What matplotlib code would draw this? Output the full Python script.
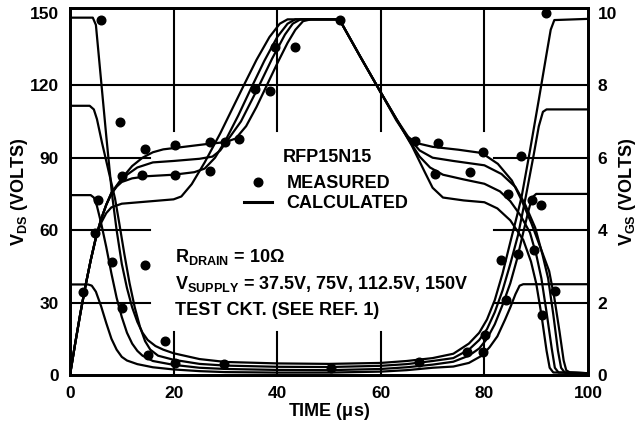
import matplotlib.pyplot as plt
from matplotlib.lines import Line2D

plt.rcParams['font.family'] = 'Liberation Sans'
plt.rcParams['font.weight'] = 'bold'
plt.rcParams['axes.labelweight'] = 'bold'
plt.rcParams['mathtext.fontset'] = 'custom'
plt.rcParams['mathtext.rm'] = 'Liberation Sans:bold'
plt.rcParams['mathtext.it'] = 'Liberation Sans:bold'
plt.rcParams['mathtext.bf'] = 'Liberation Sans:bold'

# ---- calculated V_DS curves (time in us, volts) ----
vds37_t = [0, 3.5, 4.2, 5, 6, 7, 8, 9, 10, 11, 13, 16, 20, 25, 30, 40, 50, 60, 65, 70, 74,
           77, 79.5, 81, 82.5, 84, 85, 86, 86.8, 87.5, 100]
vds37_v = [37.5, 37.5, 37, 34.5, 28.5, 21.5, 15, 10.5, 7.5, 6, 4.5, 3.2, 2.3, 1.6, 1.2, 1, 1, 1.4, 2, 3, 3.5,
           5, 8, 11.5, 16, 23, 28, 33.5, 37, 37.6, 37.6]
vds75_t = [0, 4, 4.6, 5.2, 6, 7, 8, 9, 10, 11, 12, 13, 14, 16, 20, 25, 30, 40, 50, 60, 65, 70, 74,
           77, 79, 80.5, 82, 83.5, 85, 86.3, 87.5, 88.5, 89.2, 90, 100]
vds75_v = [74.5, 74.5, 73.5, 70, 63, 53, 42, 32, 24, 17.5, 13, 10, 8, 5.8, 4.2, 3, 2.5, 2.1, 2, 2.5, 3.2, 4.3, 5.5,
           8, 11, 15, 21, 29, 38, 48, 59, 68, 73.5, 75, 75]
vds112_t = [0, 3.8, 4.6, 5.2, 6.2, 7.5, 8.7, 9.5, 10.5, 11.5, 12.5, 13.5, 14.5, 15.5, 17, 20, 25, 30, 40, 50,
            60, 65, 70, 74, 77, 79, 80.5, 82, 83.5, 85, 86.5, 88, 89.5, 90.5, 91.3, 92, 100]
vds112_v = [111.5, 111.5, 110, 106, 96, 84, 73, 63, 50, 38, 28, 20, 14, 10.5, 8, 6.3, 4.6, 3.9, 3.4, 3.3,
            3.8, 4.5, 5.8, 7, 10.5, 14.5, 19, 26, 35, 46, 58, 74, 91, 103, 109, 110, 110]
vds150_t = [0, 4.4, 5, 6, 7, 8.1, 9, 10, 11, 12, 13, 14, 15, 16.5, 18, 20, 25, 30, 40, 50, 60, 65, 70, 74,
            77, 79, 80.5, 82, 83.5, 85, 86.3, 87.2, 88.8, 90.5, 92, 92.8, 93.5, 100]
vds150_v = [148, 148, 145, 122, 99, 75, 60, 46, 36, 28, 22, 17.5, 14.5, 12, 10.5, 9, 6.6, 5.4, 4.8, 4.6, 5, 5.8, 7, 8.8,
            13, 17.5, 23, 31, 42, 55, 66, 74, 93, 114, 133, 143, 147, 147.5]

# ---- calculated V_GS curves (time in us, volts) ----
vgs37_t = [0, 1, 2, 3, 4, 5, 6, 7, 8, 10, 15, 20, 21.5, 23.5, 26, 29, 31.5, 33.8, 36, 38.5, 40.5, 42,
           52, 56, 60, 63, 66, 68.5, 70, 72, 76, 80, 82.5, 85, 87.5, 89, 90, 91, 92, 92.6, 93.3, 100]
vgs37_v = [0, 0.87, 1.70, 2.47, 3.17, 3.77, 4.2, 4.47, 4.63, 4.73, 4.79, 4.85, 4.93, 5.27, 5.87, 6.67, 7.4,
           8.07, 8.7, 9.33, 9.7, 9.82, 9.82, 8.8, 7.8, 7.07, 6.33, 5.6, 5.17, 4.9, 4.82, 4.77, 4.6, 4.27,
           3.73, 3.13, 2.53, 1.67, 0.67, 0.2, 0.07, 0.05]
vgs75_t = [0, 1, 2, 3, 4, 5, 6, 7, 8, 9, 10, 12, 15, 20, 24, 26, 28, 30, 32.5, 35, 37.5, 40, 42, 43.5,
           52, 56, 60, 63, 65.5, 67.5, 69.5, 72, 76, 80, 83, 85, 87, 88.8, 90, 91, 92, 93, 93.6, 94.3, 100]
vgs75_v = [0, 0.87, 1.7, 2.47, 3.17, 3.8, 4.3, 4.7, 5.0, 5.2, 5.33, 5.43, 5.49, 5.53, 5.6, 5.7, 6.0, 6.47,
           7.17, 7.93, 8.67, 9.33, 9.7, 9.82, 9.82, 8.8, 7.8, 7.07, 6.47, 6.03, 5.73, 5.53, 5.4, 5.28, 5.07,
           4.8, 4.4, 3.93, 3.33, 2.67, 1.73, 0.73, 0.2, 0.07, 0.05]
vgs112_t = [0, 1, 2, 3, 4, 5, 6, 7, 8, 9.5, 11, 13, 16, 20, 25, 27.5, 29, 31, 33, 36.3, 39, 41.5, 43, 44.5,
            52, 56, 60, 63, 65.5, 67.5, 70, 74, 78, 80, 83.3, 86, 87.8, 89.8, 91.2, 92.3, 93.3, 94.2, 94.8,
            95.5, 100]
vgs112_v = [0, 0.87, 1.7, 2.47, 3.17, 3.8, 4.3, 4.7, 5.03, 5.3, 5.53, 5.73, 5.87, 5.91, 5.97, 6.03, 6.2, 6.6,
            7.0, 7.93, 8.73, 9.4, 9.7, 9.82, 9.82, 8.8, 7.8, 7.07, 6.53, 6.2, 6.0, 5.91, 5.83, 5.79, 5.55,
            5.19, 4.73, 4.07, 3.33, 2.67, 1.67, 0.67, 0.2, 0.07, 0.05]
vgs150_t = [0, 1, 2, 3, 4, 5, 6, 7, 8, 10, 12, 14, 16, 18, 22, 26, 30, 32, 34, 36, 38, 40, 42, 43.5, 45,
            46.5, 52, 56, 60, 63, 65, 67, 70, 75, 79.5, 82.6, 85.3, 87.2, 89.1, 91, 92.5, 93.5, 94.5, 95.3,
            95.8, 96.5, 100]
vgs150_v = [0, 0.87, 1.7, 2.47, 3.17, 3.8, 4.3, 4.7, 5.03, 5.43, 5.77, 6.0, 6.15, 6.23, 6.3, 6.37, 6.43,
            6.53, 6.87, 7.4, 8.0, 8.6, 9.17, 9.53, 9.77, 9.82, 9.82, 8.8, 7.8, 7.03, 6.6, 6.4, 6.3, 6.22,
            6.13, 5.83, 5.37, 4.82, 4.18, 3.45, 2.87, 2.13, 1.2, 0.4, 0.13, 0.07, 0.05]

# ---- measured points ----
meas_vds_t = [6, 9.7, 14.5, 18.3, 5.5, 8.1, 10, 15.1, 20.3, 29.8, 50.4, 67.4, 76.6, 79.8, 80.1,
              84.1, 83.3, 86.5, 87.1, 91.9]
meas_vds_v = [147, 104.7, 45.5, 14.2, 72.3, 46.8, 27.6, 8.3, 4.8, 4.4, 2.8, 5.5, 9.5, 9.5, 16.7,
              30.9, 47.8, 50, 90.5, 150.1]
meas_vgs_t = [2.6, 4.9, 10, 13.9, 14.5, 20.3, 20.3, 27.1, 27.1, 30, 32.6, 35.8, 38.7, 39.6, 43.4, 52.1,
              66.6, 71.1, 70.5, 77.2, 79.8, 84.6, 89.1, 90.9, 89.6, 91.2, 93.6]
meas_vgs_v = [2.29, 3.91, 5.49, 5.53, 6.24, 6.35, 5.51, 6.43, 5.63, 6.43, 6.53, 7.9, 7.85, 9.05, 9.05, 9.8,
              6.47, 6.41, 5.55, 5.6, 6.15, 5.0, 4.82, 4.7, 3.46, 1.65, 2.31]

x_ticks = [0, 20, 40, 60, 80, 100]
vds_ticks = [0, 30, 60, 90, 120, 150]
vgs_ticks = [0, 2, 4, 6, 8, 10]

fig = plt.figure(figsize=(6.37, 4.25), dpi=100)
ax = fig.add_axes([70 / 637, 50 / 425, 518 / 637, 367 / 425])
ax.set_xlim(0, 100)
ax.set_ylim(0, 152)

# broken grid, left open around the notes
lw_grid = 1.5
ax.plot([0, 100], [120, 120], color='k', lw=lw_grid, zorder=1)
for gy in [30, 60, 90]:
    ax.plot([0, 15.5], [gy, gy], color='k', lw=lw_grid, zorder=1)
    ax.plot([81.8, 100], [gy, gy], color='k', lw=lw_grid, zorder=1)
for gx in [20, 40, 60, 80]:
    ax.plot([gx, gx], [101, 152], color='k', lw=lw_grid, zorder=1)
    ax.plot([gx, gx], [0, 18], color='k', lw=lw_grid, zorder=1)

lw_curve = 1.6
for t, v in [(vds37_t, vds37_v), (vds75_t, vds75_v), (vds112_t, vds112_v), (vds150_t, vds150_v)]:
    ax.plot(t, v, color='k', lw=lw_curve, zorder=2)
ax.plot(meas_vds_t, meas_vds_v, 'o', color='k', ms=6.2, zorder=3, clip_on=False)

ax2 = ax.twinx()
ax2.set_ylim(0, 152 / 15)
for t, v in [(vgs37_t, vgs37_v), (vgs75_t, vgs75_v), (vgs112_t, vgs112_v), (vgs150_t, vgs150_v)]:
    ax2.plot(t, v, color='k', lw=lw_curve, zorder=2)
ax2.plot(meas_vgs_t, meas_vgs_v, 'o', color='k', ms=6.2, zorder=3, clip_on=False)

ax.set_xticks(x_ticks)
ax.set_yticks(vds_ticks)
ax2.set_yticks(vgs_ticks)
ax.tick_params(length=0, labelsize=12.5, pad=8)
ax2.tick_params(length=0, labelsize=12.5, pad=7)
for a in (ax, ax2):
    for s in a.spines.values():
        s.set_linewidth(2)

ax.set_xlabel(r'TIME ($\mu$s)', fontsize=13, labelpad=0)
ax.set_ylabel(r'V$_{DS}$ (VOLTS)', fontsize=13)
ax.yaxis.set_label_coords(-0.078, 0.5)
ax2.set_ylabel(r'V$_{GS}$ (VOLTS)', fontsize=13)
ax2.yaxis.set_label_coords(1.056, 0.5)

# legend and notes
handles = [Line2D([], [], marker='o', ls='none', color='k', ms=6.2),
           Line2D([], [], color='k', lw=2.2)]
ax2.legend(handles, ['MEASURED', 'CALCULATED'], loc='upper left', bbox_to_anchor=(0.335, 0.545),
           frameon=False, fontsize=13, borderpad=0, borderaxespad=0, handlelength=1.57,
           handletextpad=0.8, labelspacing=0.17)
ax.text(0.4115, (375 - 161.7) / 367, 'RFP15N15', transform=ax.transAxes, fontsize=13,
        ha='left', va='baseline')
ax.text(20.3, 46.7, r'R$_{DRAIN}$ = 10Ω', fontsize=13, va='baseline')
ax.text(20.3, 35.7, r'V$_{SUPPLY}$ = 37.5V, 75V, 112.5V, 150V', fontsize=13, va='baseline')
ax.text(20.3, 24.7, 'TEST CKT. (SEE REF. 1)', fontsize=13, va='baseline')

fig.savefig('out.png', dpi=100)
